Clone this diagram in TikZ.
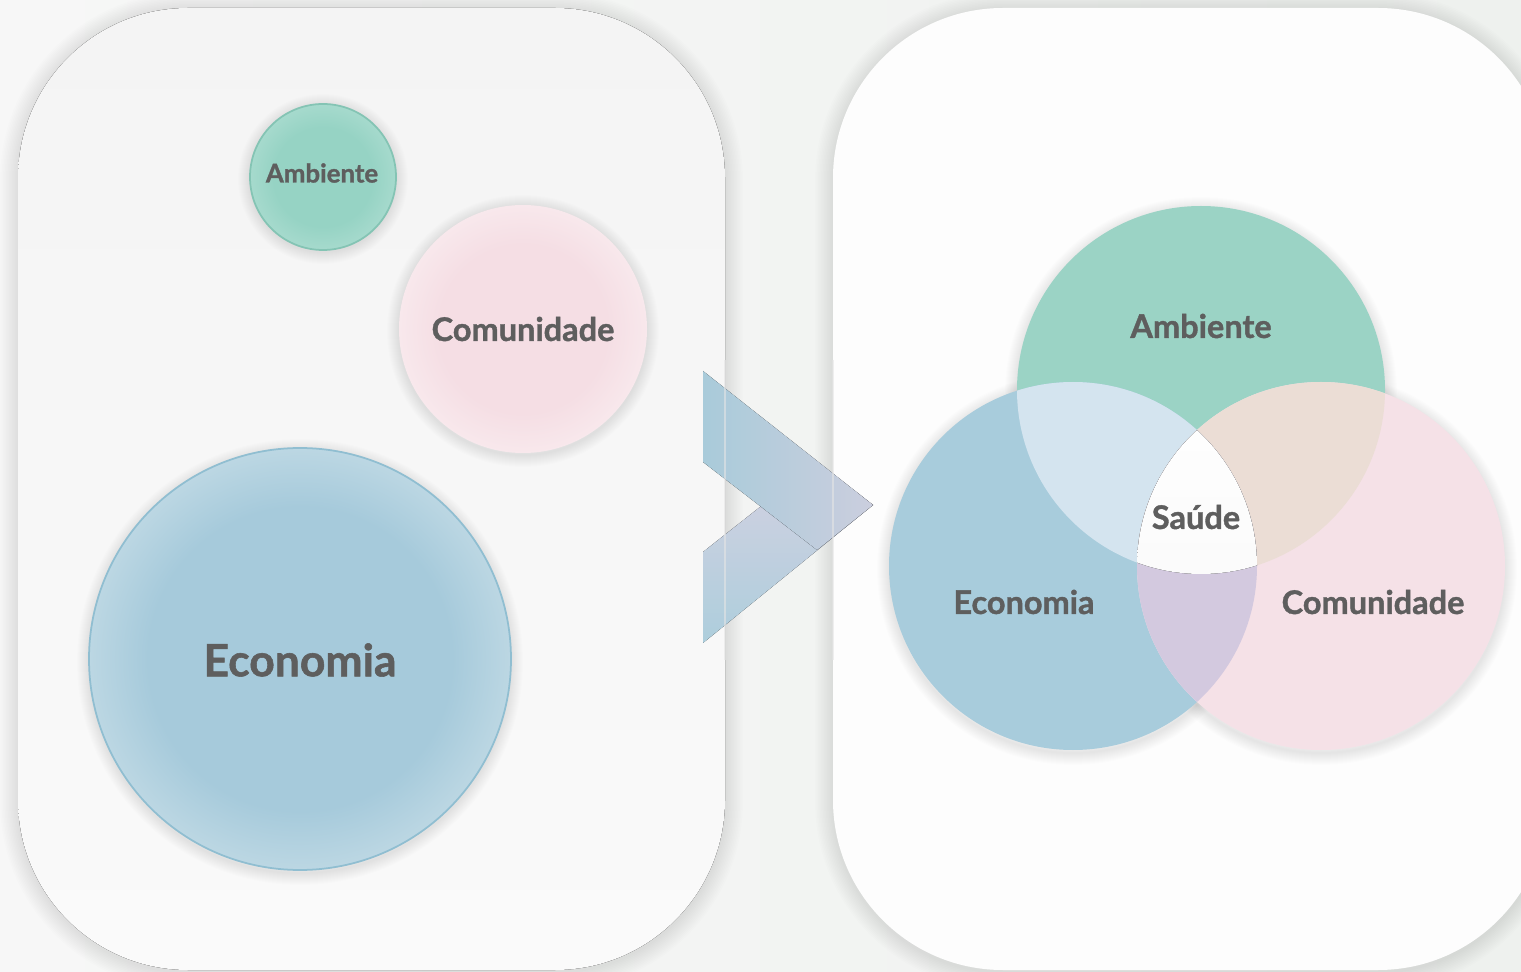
\documentclass[tikz,border=0pt]{standalone}
\usepackage{fontspec}
\setmainfont{Lato}[BoldFeatures={FakeBold=1.2}]
\usetikzlibrary{calc}
\definecolor{bgl}{HTML}{F7F7F7}
\definecolor{bgr}{HTML}{EEF1EE}
\definecolor{panL}{HTML}{F4F4F4}
\definecolor{panLb}{HTML}{FAFAFA}
\definecolor{panR}{HTML}{FDFDFD}
\definecolor{txt}{HTML}{5E5E5E}
\definecolor{teal}{HTML}{9BD3C5}
\definecolor{blu}{HTML}{A8CCDC}
\definecolor{pnk}{HTML}{F5E1E7}
\definecolor{ae}{HTML}{D4E4EF}
\definecolor{ac}{HTML}{EBDDD5}
\definecolor{ec}{HTML}{D3C9DF}
\definecolor{tri}{HTML}{F7F7F7}
\definecolor{tealA}{HTML}{96D3C4}
\definecolor{tealB}{HTML}{A6DACD}
\definecolor{tealE}{HTML}{84C4B4}
\definecolor{bluA}{HTML}{A6CADB}
\definecolor{bluB}{HTML}{BCD7E3}
\definecolor{bluE}{HTML}{90BED1}
\definecolor{pnkA}{HTML}{F5DEE4}
\definecolor{pnkB}{HTML}{F8E8EC}
\definecolor{chA}{HTML}{A9CBDA}
\definecolor{chB}{HTML}{CBCEDE}
\definecolor{chC}{HTML}{D4D1E2}
\definecolor{chD}{HTML}{ADCEDC}
\pgfdeclareradialshading{ambsh}{\pgfpoint{0bp}{0bp}}{color(0bp)=(tealA); color(17bp)=(tealA); color(25bp)=(tealB); color(50bp)=(tealB)}
\pgfdeclareradialshading{ecosh}{\pgfpoint{0bp}{0bp}}{color(0bp)=(bluA); color(18bp)=(bluA); color(25bp)=(bluB); color(50bp)=(bluB)}
\pgfdeclareradialshading{comsh}{\pgfpoint{0bp}{0bp}}{color(0bp)=(pnkA); color(17bp)=(pnkA); color(25bp)=(pnkB); color(50bp)=(pnkB)}
\begin{document}
\begin{tikzpicture}[x=0.02cm,y=-0.02cm,
  lbl/.style={font=\bfseries\fontsize{18.5}{20}\selectfont, text=txt, inner sep=0pt},
  panelshadow/.style={black, opacity=0.008, rounded corners=3.4cm},
  circshadow/.style={black, opacity=0.008}]
\useasboundingbox (0,0) rectangle (1521,972);
\shade[left color=bgl, right color=bgr] (0,0) rectangle (1521,972);
% panel shadows
\foreach \w in {3,6,...,36} {
  \draw[panelshadow, line width=\w*0.567pt] (18,10) rectangle (725,972);
  \draw[panelshadow, line width=\w*0.567pt] (833,10) rectangle (1548,972);
}
% panels
\fill[top color=panL, bottom color=panLb, rounded corners=3.4cm] (18,8) rectangle (725,970);
\fill[panR, rounded corners=3.4cm] (833,8) rectangle (1548,970);
% left circle shadows
\foreach \w in {2,4,...,24} {
  \draw[circshadow, line width=\w*0.567pt] (323,179) circle[radius=73];
  \draw[circshadow, line width=\w*0.567pt] (523,331) circle[radius=124];
  \draw[circshadow, line width=\w*0.567pt] (300,662) circle[radius=211];
}
% left circles
\shade[shading=ambsh] (323,177) circle[radius=73];
\draw[tealE, line width=1pt] (323,177) circle[radius=73];
\shade[shading=comsh] (523,329) circle[radius=124];
\shade[shading=ecosh] (300,659) circle[radius=211];
\draw[bluE, line width=1pt] (300,659) circle[radius=211];
\node[lbl, font=\bfseries\fontsize{14.7}{16}\selectfont] (amb1) at (322,173) {Ambiente};
\node[lbl] (com1) at (523,329) {Comunidade};
\node[lbl, font=\bfseries\fontsize{25.3}{28}\selectfont] (eco1) at (300,660) {Economia};
% venn shadows
\foreach \w in {2,4,...,24} {
  \draw[circshadow, line width=\w*0.567pt] (1201,393) circle[radius=184];
  \draw[circshadow, line width=\w*0.567pt] (1073,569) circle[radius=184];
  \draw[circshadow, line width=\w*0.567pt] (1321,569) circle[radius=184];
}
% venn circles
\coordinate (cA) at (1201,390);
\coordinate (cE) at (1073,566);
\coordinate (cC) at (1321,566);
\fill[teal] (cA) circle[radius=184];
\fill[blu] (cE) circle[radius=184];
\fill[pnk] (cC) circle[radius=184];
\begin{scope}
  \clip (cA) circle[radius=184];
  \fill[ae] (cE) circle[radius=184];
  \fill[ac] (cC) circle[radius=184];
\end{scope}
\begin{scope}
  \clip (cE) circle[radius=184];
  \fill[ec] (cC) circle[radius=184];
\end{scope}
\begin{scope}
  \clip (cA) circle[radius=184];
  \clip (cE) circle[radius=184];
  \fill[top color=white, bottom color=tri] (cC) circle[radius=184];
\end{scope}
\node[lbl] (amb2) at (1201,326) {Ambiente};
\node[lbl] (eco2) at (1024,602) {Economia};
\node[lbl] (com2) at (1373,602) {Comunidade};
\node[lbl] (sau) at (1196,517) {Saúde};
% chevron
\fill[top color=chC, bottom color=chD] (703,552) -- (817,462) -- (873,505) -- (703,643) -- cycle;
\fill[left color=chA, right color=chB] (703,371) -- (873,505) -- (817,550) -- (703,462) -- cycle;
% faint panel edges over chevron
\draw[black!10, opacity=0.6, line width=0.6pt] (725,360) -- (725,660);
\draw[black!10, opacity=0.6, line width=0.6pt] (833,360) -- (833,660);
\end{tikzpicture}
\end{document}
